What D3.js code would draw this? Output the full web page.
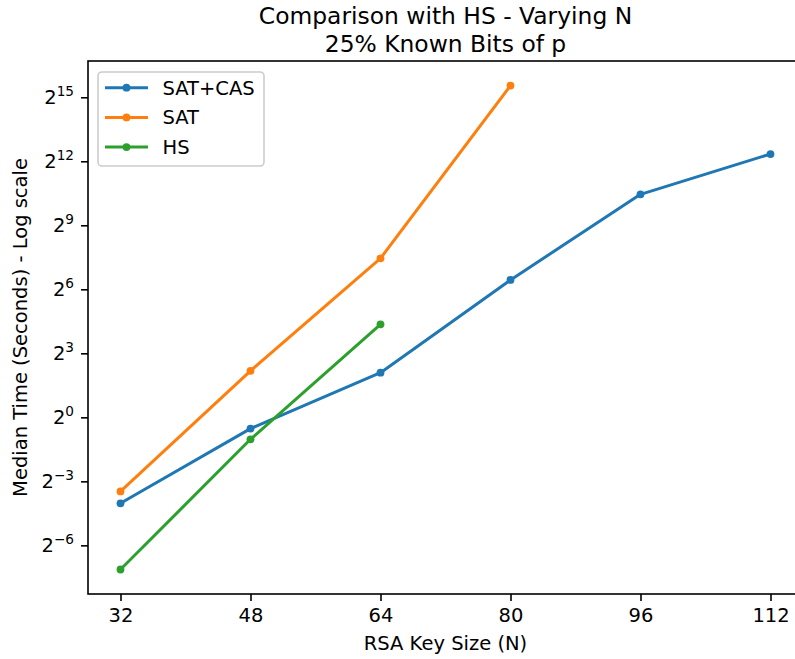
<!DOCTYPE html>
<html>
<head>
<meta charset="utf-8">
<script src="https://cdn.jsdelivr.net/npm/d3@7"></script>
<style>
  html, body { margin: 0; padding: 0; background: #fff; }
  svg { display: block; font-family: "DejaVu Sans", sans-serif; }
</style>
</head>
<body>
<svg id="chart" width="795" height="659"></svg>
<script>
// ---- data ----
const keySizes   = [32, 48, 64, 80, 96, 112];
const satCas     = [0.0612, 0.693, 4.26, 86.8, 1399, 5184];   // seconds
const satOnly    = [0.0902, 4.53, 175, 47960];                // seconds (32..80)
const hsOnly     = [0.00713, 0.49, 20.5];                     // seconds (32..64)
const seriesNames  = ["SAT+CAS", "SAT", "HS"];
const seriesColors = ["#1f77b4", "#ff7f0e", "#2ca02c"];
const xTicks = [32, 48, 64, 80, 96, 112];
const yTickExps = [-6, -3, 0, 3, 6, 9, 12, 15];
const titleLines = ["Comparison with HS - Varying N", "25% Known Bits of p"];
const xLabel = "RSA Key Size (N)";
const yLabel = "Median Time (Seconds) - Log scale";

// ---- layout ----
const mLeft = 88, mRight = 803, mTop = 61, mBottom = 594;
const tickFont = 19.5, labelFont = 19.5, titleFont = 23.4;

const svg = d3.select("#chart");

const x = d3.scaleLinear().domain([28, 116]).range([mLeft, mRight]);
const y = d3.scaleLog().base(2).domain([Math.pow(2, -8.28), Math.pow(2, 16.70)]).range([mBottom, mTop]);

const series = [satCas, satOnly, hsOnly].map((vals, i) => ({
  name: seriesNames[i], color: seriesColors[i],
  pts: vals.map((v, j) => ({ x: keySizes[j], y: v }))
}));

const line = d3.line().x(d => x(d.x)).y(d => y(d.y));

const plot = svg.append("g");
series.forEach(s => {
  plot.append("path").datum(s.pts)
    .attr("d", line).attr("fill", "none")
    .attr("stroke", s.color).attr("stroke-width", 3)
    .attr("stroke-linejoin", "round").attr("stroke-linecap", "square");
  plot.selectAll(null).data(s.pts).enter().append("circle")
    .attr("cx", d => x(d.x)).attr("cy", d => y(d.y))
    .attr("r", 3.9).attr("fill", s.color);
});

// ---- axes ----
const xAxis = d3.axisBottom(x).tickValues(xTicks).tickSize(7).tickPadding(7).tickFormat(d3.format("d"));
const gx = svg.append("g").attr("transform", `translate(0,${mBottom})`).call(xAxis);
gx.select(".domain").remove();
gx.selectAll(".tick line").attr("stroke", "#000").attr("stroke-width", 1.6);
gx.selectAll(".tick text").attr("font-size", tickFont).attr("fill", "#000")
  .attr("font-family", "DejaVu Sans");

const yAxis = d3.axisLeft(y).tickValues(yTickExps.map(e => Math.pow(2, e))).tickSize(7).tickPadding(7).tickFormat(() => "");
const gy = svg.append("g").attr("transform", `translate(${mLeft},0)`).call(yAxis);
gy.select(".domain").remove();
gy.selectAll(".tick line").attr("stroke", "#000").attr("stroke-width", 1.6);
gy.selectAll(".tick text").each(function(d) {
  const e = Math.round(Math.log2(d));
  const t = d3.select(this).attr("font-size", tickFont).attr("fill", "#000")
    .attr("font-family", "DejaVu Sans").attr("dy", "0.32em");
  t.text(null);
  t.append("tspan").text("2");
  t.append("tspan").attr("font-size", tickFont * 0.7).attr("dy", "-0.62em")
    .text(e < 0 ? "\u2212" + Math.abs(e) : String(e));
});

// spines (right spine falls outside the canvas)
svg.append("rect").attr("x", mLeft).attr("y", mTop)
  .attr("width", mRight - mLeft).attr("height", mBottom - mTop)
  .attr("fill", "none").attr("stroke", "#000").attr("stroke-width", 1.6);

// ---- labels ----
svg.append("text").attr("x", (mLeft + mRight) / 2).attr("y", 650)
  .attr("text-anchor", "middle").attr("font-size", labelFont).text(xLabel);
svg.append("text").attr("transform", `translate(27,${(mTop + mBottom) / 2}) rotate(-90)`)
  .attr("text-anchor", "middle").attr("font-size", labelFont).text(yLabel);

titleLines.forEach((t, i) => {
  svg.append("text").attr("x", (mLeft + mRight) / 2).attr("y", 24 + i * 28)
    .attr("text-anchor", "middle").attr("font-size", titleFont).text(t);
});

// ---- legend ----
const lg = svg.append("g");
lg.append("rect").attr("x", 98).attr("y", 72).attr("width", 166).attr("height", 94)
  .attr("rx", 4).attr("fill", "#fff").attr("fill-opacity", 0.8)
  .attr("stroke", "#cccccc").attr("stroke-width", 1.6);
series.forEach((s, i) => {
  const cy = 87.7 + i * 29.7;
  lg.append("line").attr("x1", 105).attr("x2", 148).attr("y1", cy).attr("y2", cy)
    .attr("stroke", s.color).attr("stroke-width", 3);
  lg.append("circle").attr("cx", 126.5).attr("cy", cy).attr("r", 3.9).attr("fill", s.color);
  lg.append("text").attr("x", 162.5).attr("y", cy).attr("dy", "0.36em")
    .attr("font-size", tickFont).text(s.name);
});
</script>
</body>
</html>
